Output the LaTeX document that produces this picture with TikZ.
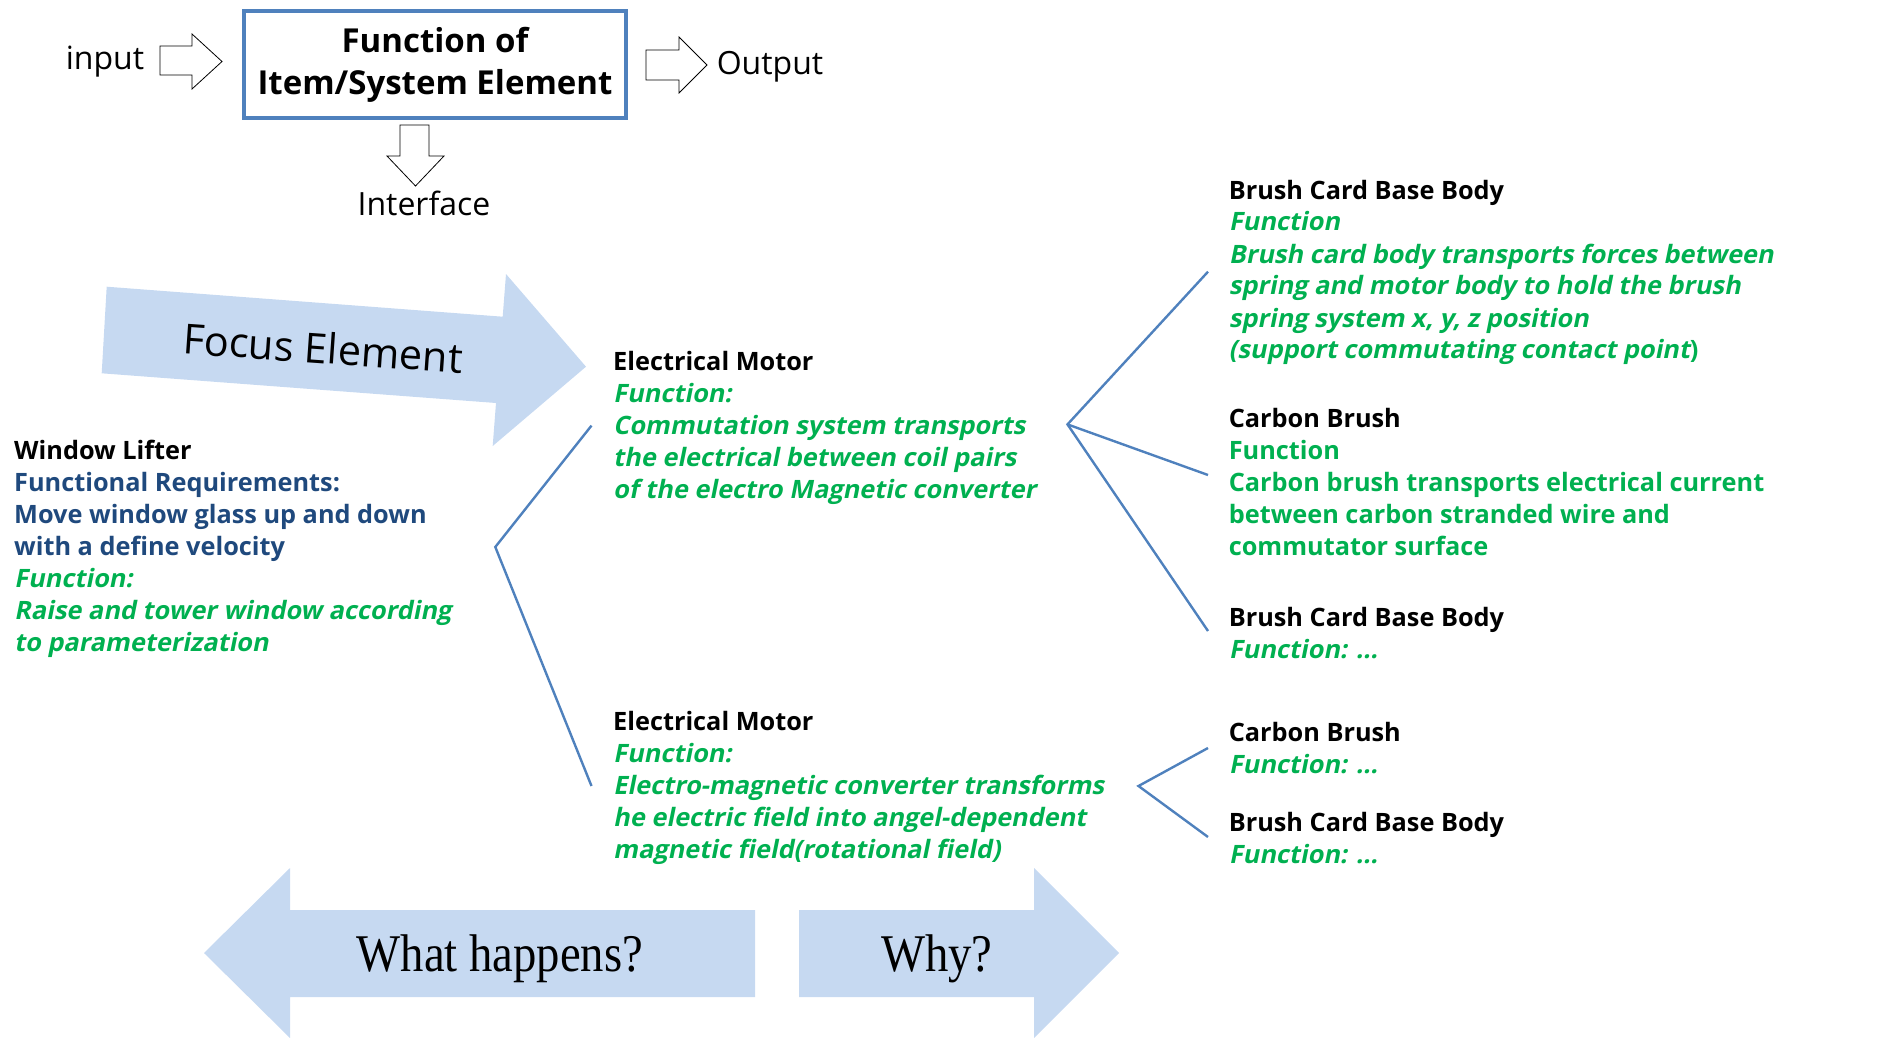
\documentclass[tikz,border=0pt]{standalone}
\usepackage{fontspec}
\usepackage{graphicx}
\setmainfont{Open Sans}
\newfontfamily\slantface{Open Sans}[FakeSlant=0.2]
\newfontfamily\serifface{Liberation Serif}

\definecolor{fgreen}{RGB}{0,176,80}
\definecolor{reqblue}{RGB}{31,73,125}
\definecolor{linkblue}{RGB}{79,129,189}
\definecolor{arrowfill}{RGB}{198,217,241}

% text helpers for the item descriptions
\newcommand\itemhead[1]{\textbf{#1}}
\newcommand\fungreen[1]{{\color{fgreen}\slantface\bfseries #1}}
\newcommand\funplain[1]{{\color{fgreen}\bfseries #1}}
\newcommand\reqtxt[1]{{\color{reqblue}\bfseries #1}}

\begin{document}
\begin{tikzpicture}[x=1pt,y=-1pt,
  txt/.style={anchor=base west, inner sep=0pt, font=\fontsize{25.3}{32}\selectfont},
  label/.style={anchor=base, inner sep=0pt, font=\fontsize{32}{38}\selectfont},
  link/.style={draw=linkblue, line width=2.4pt},
  hollow/.style={draw=black, line width=0.8pt, fill=white},
  bigarrow/.style={fill=arrowfill, draw=none},
  funcbox/.style={draw=linkblue, line width=4pt, minimum width=382pt, minimum height=107pt,
                  align=center, font=\fontsize{33}{42}\selectfont\bfseries}]
\useasboundingbox (0,0) rectangle (1885,1038);

% ---- legend: function block with input / output / interface ----
\node[funcbox] (fbox) at (435,64.5) {Function of\\Item/System Element};
\draw[hollow] (160,46) -- (192,46) -- (192,34) -- (222,61.5) -- (192,89) -- (192,75) -- (160,75) -- cycle;
\draw[hollow] (646,50) -- (679,50) -- (679,37) -- (707,65) -- (679,93) -- (679,80) -- (646,80) -- cycle;
\draw[hollow] (400,125) -- (429,125) -- (429,156) -- (444,156) -- (415.5,186) -- (387,156) -- (400,156) -- cycle;
\node[label] (inp) at (105,70) {input};
\node[label] (outp) at (770,75) {Output};
\node[label] (intf) at (424,215) {Interface};

% ---- focus element arrow ----
\fill[bigarrow] (106.7,286.7) -- (502.7,316.7) -- (506,274) -- (586,366.7) -- (492.7,446)
  -- (496,403) -- (101.7,373.3) -- cycle;
\node[rotate=-4, inner sep=0pt, font=\fontsize{41.4}{48}\selectfont] (focus) at (323,348) {Focus Element};

% ---- structure tree ----
\node[txt] (wl) at (14,459) {\begin{tabular}[t]{@{}l@{}}
  \itemhead{Window Lifter}\\
  \reqtxt{Functional Requirements:}\\
  \reqtxt{Move window glass up and down}\\
  \reqtxt{with a define velocity}\\
  \fungreen{Function:}\\
  \fungreen{Raise and tower window according}\\
  \fungreen{to parameterization}
\end{tabular}};

\node[txt] (em1) at (613,370) {\begin{tabular}[t]{@{}l@{}}
  \itemhead{Electrical Motor}\\
  \fungreen{Function:}\\
  \fungreen{Commutation system transports}\\
  \fungreen{the electrical between coil pairs}\\
  \fungreen{of the electro Magnetic converter}
\end{tabular}};

\node[txt] (em2) at (613,730) {\begin{tabular}[t]{@{}l@{}}
  \itemhead{Electrical Motor}\\
  \fungreen{Function:}\\
  \fungreen{Electro-magnetic converter transforms}\\
  \fungreen{he electric field into angel-dependent}\\
  \fungreen{magnetic field(rotational field)}
\end{tabular}};

\node[txt] (bc1) at (1228.6,199) {\begin{tabular}[t]{@{}l@{}}
  \itemhead{Brush Card Base Body}\\
  \fungreen{Function}\\
  \fungreen{Brush card body transports forces between}\\
  \fungreen{spring and motor body to hold the brush}\\
  \fungreen{spring system x, y, z position}\\
  \fungreen{(support commutating contact point}\funplain{)}
\end{tabular}};

\node[txt] (cb1) at (1228.6,427) {\begin{tabular}[t]{@{}l@{}}
  \itemhead{Carbon Brush}\\
  \funplain{Function}\\
  \funplain{Carbon brush transports electrical current}\\
  \funplain{between carbon stranded wire and}\\
  \funplain{commutator surface}
\end{tabular}};

\node[txt] (bc2) at (1228.6,626) {\begin{tabular}[t]{@{}l@{}}
  \itemhead{Brush Card Base Body}\\
  \fungreen{Function: ...}
\end{tabular}};

\node[txt] (cb2) at (1228.6,741) {\begin{tabular}[t]{@{}l@{}}
  \itemhead{Carbon Brush}\\
  \fungreen{Function: ...}
\end{tabular}};

\node[txt] (bc3) at (1228.6,831) {\begin{tabular}[t]{@{}l@{}}
  \itemhead{Brush Card Base Body}\\
  \fungreen{Function: ...}
\end{tabular}};

% branch points of the tree
\coordinate (wlv) at (495.3,547);
\coordinate (wlt) at (591.5,425.6);
\coordinate (wlb) at (591.5,786);
\coordinate (m1v) at (1067.5,424.4);
\coordinate (m1a) at (1208,271.7);
\coordinate (m1b) at (1208,475);
\coordinate (m1c) at (1208,631);
\coordinate (m2v) at (1138.5,786);
\coordinate (m2a) at (1208,748);
\coordinate (m2b) at (1208,837);

\draw[link] (wlt) -- (wlv) -- (wlb);
\draw[link] (m1a) -- (m1v) -- (m1c);
\draw[link] (m1v) -- (m1b);
\draw[link] (m2a) -- (m2v) -- (m2b);

% ---- direction arrows ----
\fill[bigarrow] (204,953) -- (290,868) -- (290,910) -- (755,910) -- (755,997) -- (290,997) -- (290,1038) -- cycle;
\fill[bigarrow] (799,910) -- (1034,910) -- (1034,868) -- (1119,953) -- (1034,1038) -- (1034,997) -- (799,997) -- cycle;
\node[anchor=base, inner sep=0pt, font=\serifface\fontsize{53}{60}\selectfont] (what) at (500,971) {\scalebox{0.88}[1]{What happens?}};
\node[anchor=base, inner sep=0pt, font=\serifface\fontsize{53}{60}\selectfont] (why) at (937,971) {\scalebox{0.88}[1]{Why?}};
\end{tikzpicture}
\end{document}
